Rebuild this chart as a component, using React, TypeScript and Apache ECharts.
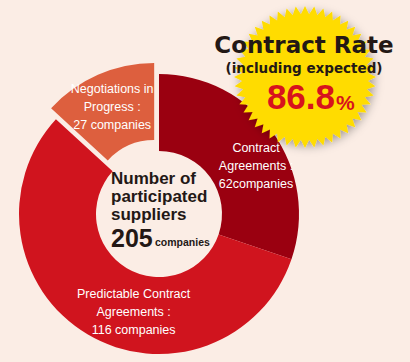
import React, { useEffect, useRef } from "react";
import * as echarts from "echarts";

const categories = [
  "Contract\nAgreements :\n62companies",
  "Predictable Contract\nAgreements :\n116 companies",
  "Negotiations in\nProgress :\n27 companies",
];
const values = [62, 116, 27];
const colors = ["#9a0010", "#d0141e", "#dd5f3e"];
const labelOffsets: [number, number][] = [[12, 13], [28, 8], [-2, 0]];
const selectedFlags = [false, false, true];
const centerLines = ["Number of", "participated", "suppliers"];
const totalValue = "205";
const totalUnit = "companies";
const rateTitle = "Contract Rate";
const rateSub = "(including expected)";
const rateValue = "86.8";
const rateUnit = "%";

function starPoints(cx: number, cy: number, R: number, r: number, n: number) {
  const pts: number[][] = [];
  for (let i = 0; i < n * 2; i++) {
    const a = (Math.PI * i) / n - Math.PI / 2;
    const rad = i % 2 === 0 ? R : r;
    pts.push([cx + rad * Math.cos(a), cy + rad * Math.sin(a)]);
  }
  return pts;
}

export default function App() {
  const ref = useRef<HTMLDivElement>(null);
  useEffect(() => {
    const chart = echarts.init(ref.current!, null, { renderer: "svg" });
    const ink = "#231815";
    chart.setOption({
      animation: false,
      backgroundColor: "#fbede5",
      series: [
        {
          type: "pie",
          center: [159, 214],
          radius: [63, 140],
          startAngle: 90,
          clockwise: true,
          selectedMode: "single",
          selectedOffset: 12,
          silent: true,
          z: 1,
          label: {
            show: true,
            position: "inside",
            color: "#ffffff",
            fontFamily: "Liberation Sans, Arial, sans-serif",
            fontSize: 12.5,
            lineHeight: 18,
            align: "center",
            overflow: "none",
          },
          labelLine: { show: false },
          itemStyle: { borderWidth: 0 },
          data: values.map((v, i) => ({
            value: v,
            name: categories[i],
            selected: selectedFlags[i],
            itemStyle: { color: colors[i] },
            select: { itemStyle: { color: colors[i] } },
            label: { offset: labelOffsets[i] },
          })),
        },
      ],
      graphic: [
        {
          type: "polygon",
          z: 10,
          shape: { points: starPoints(305, 77, 71, 63, 48) },
          style: {
            fill: "#ffdc00",
            shadowBlur: 8,
            shadowColor: "rgba(0,0,0,0.35)",
            shadowOffsetX: 2,
            shadowOffsetY: 2,
          },
        },
        {
          type: "text",
          z: 11,
          x: 304,
          y: 45,
          style: {
            text: rateTitle,
            fill: ink,
            font: "bold 23px 'DejaVu Sans', sans-serif",
            align: "center",
            verticalAlign: "middle",
          },
        },
        {
          type: "text",
          z: 11,
          x: 304,
          y: 68,
          style: {
            text: rateSub,
            fill: ink,
            font: "bold 13.5px 'DejaVu Sans', sans-serif",
            align: "center",
            verticalAlign: "middle",
          },
        },
        {
          type: "text",
          z: 11,
          x: 335,
          y: 96,
          style: {
            text: rateValue,
            fill: "#d7131d",
            font: "bold 35px 'Liberation Sans', sans-serif",
            align: "right",
            verticalAlign: "middle",
          },
        },
        {
          type: "text",
          z: 11,
          x: 336,
          y: 102,
          style: {
            text: rateUnit,
            fill: "#d7131d",
            font: "bold 21px 'Liberation Sans', sans-serif",
            align: "left",
            verticalAlign: "middle",
          },
        },
        {
          type: "text",
          z: 11,
          x: 111,
          y: 196.5,
          style: {
            text: centerLines.join("\n"),
            fill: ink,
            font: "bold 17px 'Liberation Sans', sans-serif",
            lineHeight: 18,
            align: "left",
            verticalAlign: "middle",
          },
        },
        {
          type: "text",
          z: 11,
          x: 111,
          y: 238,
          style: {
            text: totalValue,
            fill: ink,
            font: "bold 25px 'Liberation Sans', sans-serif",
            align: "left",
            verticalAlign: "middle",
          },
        },
        {
          type: "text",
          z: 11,
          x: 155,
          y: 242,
          style: {
            text: totalUnit,
            fill: ink,
            font: "bold 10.5px 'Liberation Sans', sans-serif",
            align: "left",
            verticalAlign: "middle",
          },
        },
      ],
    });
    return () => chart.dispose();
  }, []);
  return (
    <div
      ref={ref}
      style={{ position: "absolute", left: 0, top: 0, width: 410, height: 362 }}
    />
  );
}
